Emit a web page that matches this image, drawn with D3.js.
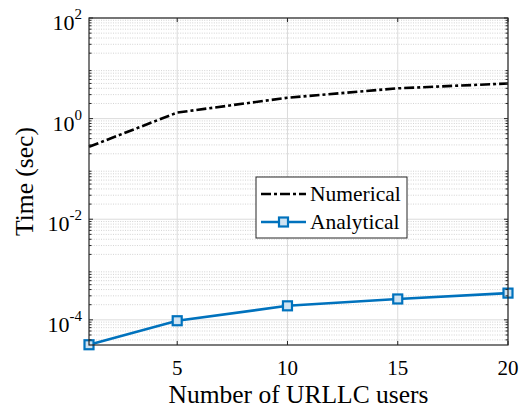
<!DOCTYPE html>
<html>
<head>
<meta charset="utf-8">
<script src="https://cdn.jsdelivr.net/npm/d3@7"></script>
<style>
  body { margin: 0; background: #fff; }
  text { font-family: "Liberation Serif", "Times New Roman", serif; fill: #000; }
</style>
</head>
<body>
<div id="chart"></div>
<script>
// values
const users = [1, 5, 10, 15, 20];
const numerical = [0.275, 1.32, 2.6, 4.0, 5.0];
const analytical = [3.2e-5, 0.96e-4, 1.9e-4, 2.6e-4, 3.4e-4];
const xTicks = [5, 10, 15, 20];
const yExps = [-4, -2, 0, 2];

const width = 526, height = 410;
const margin = {top: 18, right: 18, bottom: 65, left: 89};

const svg = d3.select('#chart').append('svg')
    .attr('width', width)
    .attr('height', height);

const x = d3.scaleLinear()
    .domain([1, 20])
    .range([margin.left, width - margin.right]);

const y = d3.scaleLog()
    .domain([Math.pow(10, -4.5), 100])
    .range([height - margin.bottom, margin.top]);

const x0 = x.range()[0], x1 = x.range()[1];
const y0 = y.range()[0], y1 = y.range()[1];

// minor log ticks
const minor = [];
for (let e = -5; e < 2; e++) {
    for (let m = 2; m <= 9; m++) {
        const v = m * Math.pow(10, e);
        if (v >= y.domain()[0] && v <= y.domain()[1]) minor.push(v);
    }
}

const grid = svg.append('g');
grid.selectAll('.minor')
    .data(minor)
    .enter().append('line')
    .attr('x1', x0).attr('x2', x1)
    .attr('y1', d => y(d)).attr('y2', d => y(d))
    .attr('stroke', '#c8c8c8')
    .attr('stroke-width', 0.8)
    .attr('stroke-dasharray', '1,1.4');

grid.selectAll('.majy')
    .data(yExps)
    .enter().append('line')
    .attr('x1', x0).attr('x2', x1)
    .attr('y1', d => y(Math.pow(10, d))).attr('y2', d => y(Math.pow(10, d)))
    .attr('stroke', '#dcdcdc')
    .attr('stroke-width', 1);

grid.selectAll('.majx')
    .data(xTicks)
    .enter().append('line')
    .attr('x1', d => x(d)).attr('x2', d => x(d))
    .attr('y1', y0).attr('y2', y1)
    .attr('stroke', '#dcdcdc')
    .attr('stroke-width', 1);

// lines
const line = d3.line()
    .x((d, i) => x(users[i]))
    .y(d => y(d));

svg.append('path')
    .datum(numerical)
    .attr('d', line)
    .attr('fill', 'none')
    .attr('stroke', '#000')
    .attr('stroke-width', 2.6)
    .attr('stroke-dasharray', '10,3,3,3');

const blue = '#0072BD';
svg.append('path')
    .datum(analytical)
    .attr('d', line)
    .attr('fill', 'none')
    .attr('stroke', blue)
    .attr('stroke-width', 2.6);

svg.selectAll('.mk')
    .data(analytical)
    .enter().append('rect')
    .attr('x', (d, i) => x(users[i]) - 4.5)
    .attr('y', d => y(d) - 4.5)
    .attr('width', 9).attr('height', 9)
    .attr('fill', '#cfe3f2')
    .attr('stroke', blue)
    .attr('stroke-width', 2.2);

// axes box with inward ticks
const ax = svg.append('g');
ax.append('rect')
    .attr('x', x0).attr('y', y1)
    .attr('width', x1 - x0).attr('height', y0 - y1)
    .attr('fill', 'none')
    .attr('stroke', '#262626')
    .attr('stroke-width', 1.2);

xTicks.forEach(t => {
    ax.append('line').attr('x1', x(t)).attr('x2', x(t))
        .attr('y1', y0).attr('y2', y0 - 4).attr('stroke', '#262626');
    ax.append('line').attr('x1', x(t)).attr('x2', x(t))
        .attr('y1', y1).attr('y2', y1 + 4).attr('stroke', '#262626');
});
yExps.forEach(e => {
    const yy = y(Math.pow(10, e));
    ax.append('line').attr('x1', x0).attr('x2', x0 + 4)
        .attr('y1', yy).attr('y2', yy).attr('stroke', '#262626');
    ax.append('line').attr('x1', x1).attr('x2', x1 - 4)
        .attr('y1', yy).attr('y2', yy).attr('stroke', '#262626');
});
minor.forEach(v => {
    const yy = y(v);
    ax.append('line').attr('x1', x0).attr('x2', x0 + 2.5)
        .attr('y1', yy).attr('y2', yy).attr('stroke', '#262626');
    ax.append('line').attr('x1', x1).attr('x2', x1 - 2.5)
        .attr('y1', yy).attr('y2', yy).attr('stroke', '#262626');
});

// tick labels
svg.selectAll('.xl')
    .data(xTicks)
    .enter().append('text')
    .attr('x', d => x(d))
    .attr('y', y0 + 30)
    .attr('text-anchor', 'middle')
    .attr('font-size', 21)
    .text(d => d);

yExps.forEach(e => {
    const t = svg.append('text')
        .attr('x', x0 - 7)
        .attr('y', y(Math.pow(10, e)) + 12)
        .attr('text-anchor', 'end')
        .attr('font-size', 22);
    t.append('tspan').text('10');
    t.append('tspan').attr('dy', -11).attr('font-size', 15).text(e);
});

// axis labels
svg.append('text')
    .attr('x', (x0 + x1) / 2)
    .attr('y', 403)
    .attr('text-anchor', 'middle')
    .attr('font-size', 25.5)
    .text('Number of URLLC users');

svg.append('text')
    .attr('transform', `translate(33,${(y0 + y1) / 2}) rotate(-90)`)
    .attr('text-anchor', 'middle')
    .attr('font-size', 25.5)
    .text('Time (sec)');

// legend
const lg = svg.append('g');
lg.append('rect')
    .attr('x', 256).attr('y', 177)
    .attr('width', 151).attr('height', 61)
    .attr('fill', '#fff')
    .attr('stroke', '#262626')
    .attr('stroke-width', 1);

lg.append('line')
    .attr('x1', 261).attr('x2', 306)
    .attr('y1', 194).attr('y2', 194)
    .attr('stroke', '#000').attr('stroke-width', 2.6)
    .attr('stroke-dasharray', '10,3,3,3');
lg.append('line')
    .attr('x1', 261).attr('x2', 306)
    .attr('y1', 222).attr('y2', 222)
    .attr('stroke', blue).attr('stroke-width', 2.6);
lg.append('rect')
    .attr('x', 279).attr('y', 217.5)
    .attr('width', 9).attr('height', 9)
    .attr('fill', '#cfe3f2')
    .attr('stroke', blue).attr('stroke-width', 2.2);

lg.append('text').attr('x', 310).attr('y', 201)
    .attr('font-size', 21.5).text('Numerical');
lg.append('text').attr('x', 310).attr('y', 229)
    .attr('font-size', 21.5).text('Analytical');
</script>
</body>
</html>
